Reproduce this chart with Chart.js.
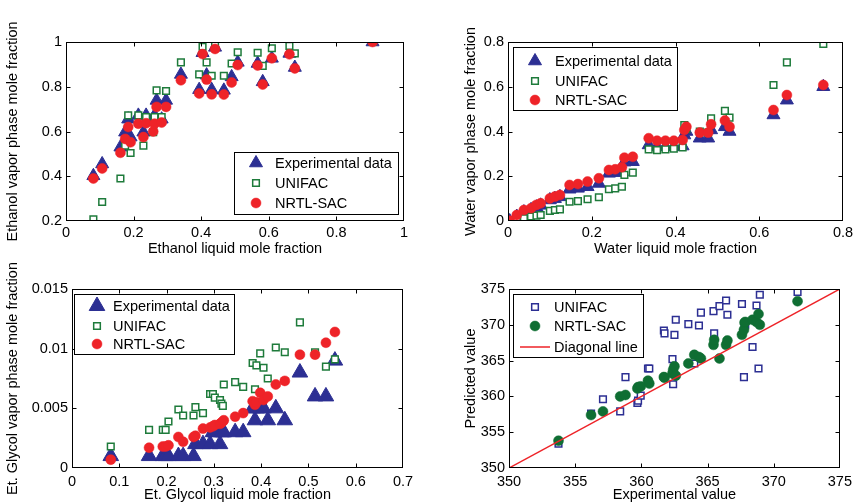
<!DOCTYPE html>
<html>
<head>
<meta charset="utf-8">
<script src="https://cdn.jsdelivr.net/npm/chart.js@4.4.1/dist/chart.umd.min.js"></script>
<style>
  html, body { margin: 0; padding: 0; background: #fff; }
  #wrap { position: relative; width: 857px; height: 504px; overflow: hidden; }
  canvas { position: absolute; }
</style>
</head>
<body>
<div id="wrap">
  <canvas id="ethanol" width="428" height="262" style="left:0;top:0;width:428px;height:262px"></canvas>
  <canvas id="water" width="429" height="262" style="left:428px;top:0;width:429px;height:262px"></canvas>
  <canvas id="glycol" width="428" height="242" style="left:0;top:262px;width:428px;height:242px"></canvas>
  <canvas id="tb" width="429" height="242" style="left:428px;top:262px;width:429px;height:242px"></canvas>
</div>
<script>
// ethanol: liquid mole fraction, then vapor fraction per model
const ethX    = [0.081, 0.107, 0.161, 0.175, 0.184, 0.191, 0.214, 0.229, 0.237, 0.258, 0.262, 0.283, 0.268, 0.296, 0.34, 0.394, 0.404, 0.416, 0.431, 0.441, 0.467, 0.49, 0.508, 0.567, 0.582, 0.609, 0.661, 0.677, 0.907];
const ethExp  = [0.402, 0.455, 0.53, 0.597, 0.655, 0.575, 0.672, 0.597, 0.672, 0.66, 0.672, 0.655, 0.739, 0.739, 0.855, 0.787, 0.952, 0.852, 0.787, 0.976, 0.784, 0.844, 0.909, 0.904, 0.822, 0.927, 0.949, 0.886, 1.0];
const ethUni  = [0.208, 0.285, 0.39, 0.537, 0.672, 0.504, 0.672, 0.537, 0.664, 0.597, 0.664, 0.664, 0.784, 0.781, 0.909, 0.855, 0.979, 0.909, 0.849, 0.99, 0.849, 0.904, 0.954, 0.952, 0.893, 0.972, 0.983, 0.949, 1.0];
const ethNrtl = [0.39, 0.435, 0.505, 0.567, 0.62, 0.552, 0.635, 0.575, 0.637, 0.6, 0.635, 0.64, 0.71, 0.71, 0.829, 0.77, 0.946, 0.832, 0.766, 0.969, 0.765, 0.819, 0.897, 0.895, 0.81, 0.927, 0.945, 0.882, 1.0];

// water
const watX    = [0.004, 0.021, 0.038, 0.055, 0.068, 0.078, 0.1, 0.112, 0.124, 0.147, 0.167, 0.19, 0.217, 0.241, 0.256, 0.272, 0.278, 0.298, 0.336, 0.356, 0.376, 0.396, 0.417, 0.421, 0.426, 0.458, 0.478, 0.485, 0.518, 0.529, 0.634, 0.666, 0.753];
const watExp  = [0.0, 0.02, 0.04, 0.05, 0.062, 0.07, 0.094, 0.1, 0.108, 0.142, 0.146, 0.153, 0.168, 0.213, 0.216, 0.22, 0.263, 0.265, 0.34, 0.332, 0.332, 0.332, 0.335, 0.384, 0.4, 0.37, 0.37, 0.407, 0.421, 0.4, 0.474, 0.54, 0.6];
const watUni  = [0.004, 0.012, 0.012, 0.02, 0.024, 0.027, 0.045, 0.049, 0.052, 0.086, 0.089, 0.097, 0.106, 0.142, 0.146, 0.153, 0.206, 0.216, 0.32, 0.317, 0.32, 0.323, 0.329, 0.429, 0.41, 0.4, 0.395, 0.459, 0.492, 0.462, 0.608, 0.709, 0.791];
const watNrtl = [0.001, 0.027, 0.049, 0.057, 0.072, 0.079, 0.101, 0.109, 0.116, 0.161, 0.165, 0.176, 0.191, 0.228, 0.231, 0.24, 0.283, 0.287, 0.37, 0.359, 0.359, 0.359, 0.362, 0.407, 0.421, 0.395, 0.395, 0.432, 0.449, 0.421, 0.496, 0.563, 0.608];

// ethylene glycol
const glyX    = [0.082, 0.163, 0.192, 0.198, 0.204, 0.225, 0.235, 0.257, 0.261, 0.277, 0.292, 0.298, 0.302, 0.313, 0.316, 0.319, 0.321, 0.345, 0.362, 0.382, 0.387, 0.39, 0.398, 0.405, 0.414, 0.431, 0.45, 0.482, 0.514, 0.537, 0.556];
const glyExp  = [0.001, 0.001, 0.001, 0.001, 0.001, 0.001, 0.001, 0.001, 0.002, 0.002, 0.002, 0.003, 0.003, 0.002, 0.003, 0.003, 0.003, 0.003, 0.003, 0.005, 0.004, 0.005, 0.005, 0.005, 0.004, 0.005, 0.004, 0.008, 0.006, 0.006, 0.009];
const glyUni  = [0.0018, 0.0032, 0.0032, 0.0032, 0.0039, 0.0049, 0.0044, 0.0044, 0.0051, 0.0046, 0.0062, 0.0062, 0.0059, 0.0057, 0.0054, 0.0052, 0.007, 0.0072, 0.0068, 0.0088, 0.0066, 0.0086, 0.0096, 0.0084, 0.0075, 0.0101, 0.0097, 0.0122, 0.0097, 0.0085, 0.0091];
const glyNrtl = [0.0007, 0.0017, 0.0018, 0.0018, 0.0019, 0.0026, 0.0022, 0.0026, 0.0027, 0.0033, 0.0034, 0.0035, 0.0036, 0.0037, 0.0038, 0.0039, 0.004, 0.0043, 0.0046, 0.0056, 0.0053, 0.0055, 0.0063, 0.0057, 0.006, 0.007, 0.0073, 0.0095, 0.0095, 0.0105, 0.0114];

// boiling temperature: experimental vs predicted
const tbExp  = [353.74, 356.2, 357.1, 358.4, 358.8, 359.7, 359.75, 359.95, 360.5, 360.6, 361.7, 361.75, 362.35, 362.4, 362.5, 362.6, 363.55, 364.0, 364.35, 364.5, 365.45, 365.5, 365.9, 366.4, 366.5, 367.6, 367.75, 367.8, 367.85, 368.4, 368.7, 368.85, 368.95, 371.8];
const tbUni  = [353.4, 357.6, 359.6, 357.9, 362.7, 359.1, 359.4, 360.1, 363.9, 363.9, 369.2, 368.8, 365.2, 361.7, 368.6, 370.7, 370.1, 364.6, 369.9, 371.7, 371.9, 368.8, 372.6, 373.4, 371.4, 372.9, 362.7, 370.0, 370.0, 366.9, 372.7, 363.9, 374.2, 374.6];
const tbNrtl = [353.8, 357.4, 357.9, 360.0, 360.2, 361.1, 361.3, 361.4, 362.2, 361.8, 362.7, 362.6, 363.2, 363.7, 364.2, 362.9, 364.6, 365.8, 365.5, 365.3, 367.2, 367.9, 365.3, 367.2, 367.8, 368.6, 369.3, 370.3, 370.4, 370.7, 370.4, 371.5, 370.0, 373.3];
const diagX = [350, 375];

const ethTicksX = [0, 0.2, 0.4, 0.6, 0.8, 1];
const ethTicksY = [0.2, 0.4, 0.6, 0.8, 1];
const watTicksX = [0, 0.2, 0.4, 0.6, 0.8];
const watTicksY = [0, 0.2, 0.4, 0.6, 0.8];
const glyTicksX = [0, 0.1, 0.2, 0.3, 0.4, 0.5, 0.6, 0.7];
const glyTicksY = [0, 0.005, 0.01, 0.015];
const tbTicks   = [350, 355, 360, 365, 370, 375];

const NAVY = '#2C2F93';
const GREEN = '#1E7B3B';
const RED = '#EE2328';
const DKGREEN = '#0F6E33';
const FONT = '"Liberation Sans", Arial, Helvetica, sans-serif';

Chart.defaults.font.family = FONT;
Chart.defaults.font.size = 14.5;
Chart.defaults.color = '#000';

const fmt = v => String(+(+v).toFixed(6));

function pts(xs, ys) {
  return xs.map((x, i) => ({ x: x, y: ys[i] }));
}

// marker looks, shared by the datasets and the boxed legends
const tri = (c, r) => ({ pointStyle: 'triangle', radius: r, bg: c, border: c, bw: 1 });
const sq = (c) => ({ pointStyle: 'rect', radius: 4.7, bg: '#fff', border: c, bw: 1.5 });
const dot = (c) => ({ pointStyle: 'circle', radius: 5, bg: c, border: c, bw: 0.5 });

function markerSet(label, data, m, order) {
  return {
    label: label, data: data, order: order, showLine: false,
    pointStyle: m.pointStyle, pointRadius: m.radius, pointHoverRadius: m.radius,
    pointBackgroundColor: m.bg, pointBorderColor: m.border, pointBorderWidth: m.bw,
    backgroundColor: m.bg, borderColor: m.border
  };
}

function drawMarker(ctx, m, x, y) {
  ctx.save();
  ctx.fillStyle = m.bg;
  ctx.strokeStyle = m.border;
  ctx.lineWidth = m.bw;
  const r = m.radius;
  ctx.beginPath();
  if (m.pointStyle === 'circle') {
    ctx.arc(x, y, r, 0, Math.PI * 2);
  } else if (m.pointStyle === 'rect') {
    const s = r * Math.SQRT1_2;
    ctx.rect(x - s, y - s, 2 * s, 2 * s);
  } else if (m.pointStyle === 'triangle') {
    let a = 0;
    ctx.moveTo(x + Math.sin(a) * r, y - Math.cos(a) * r);
    a += Math.PI * 2 / 3;
    ctx.lineTo(x + Math.sin(a) * r, y - Math.cos(a) * r);
    a += Math.PI * 2 / 3;
    ctx.lineTo(x + Math.sin(a) * r, y - Math.cos(a) * r);
    ctx.closePath();
  } else if (m.pointStyle === 'line') {
    ctx.moveTo(x - m.half, y);
    ctx.lineTo(x + m.half, y);
    ctx.stroke();
    ctx.restore();
    return;
  }
  ctx.fill();
  ctx.stroke();
  ctx.restore();
}

// box round the plot with inward ticks on all four sides (matlab look)
const framePlugin = {
  id: 'frame',
  afterDatasetsDraw(chart) {
    const { ctx, chartArea: a, scales } = chart;
    const L = Math.round(a.left) + 0.5, R = Math.round(a.right) - 0.5;
    const T = Math.round(a.top) + 0.5, B = Math.round(a.bottom) - 0.5;
    ctx.save();
    ctx.strokeStyle = '#000';
    ctx.lineWidth = 1;
    ctx.strokeRect(L, T, R - L, B - T);
    ctx.beginPath();
    scales.x.ticks.forEach(t => {
      const px = Math.round(scales.x.getPixelForValue(t.value)) + 0.5;
      if (px <= L + 1 || px >= R - 1) return;
      ctx.moveTo(px, B); ctx.lineTo(px, B - 4);
      ctx.moveTo(px, T); ctx.lineTo(px, T + 4);
    });
    scales.y.ticks.forEach(t => {
      const py = Math.round(scales.y.getPixelForValue(t.value)) + 0.5;
      if (py <= T + 1 || py >= B - 1) return;
      ctx.moveTo(L, py); ctx.lineTo(L + 4, py);
      ctx.moveTo(R, py); ctx.lineTo(R - 4, py);
    });
    ctx.stroke();
    ctx.restore();
  }
};

function boxLegend(cfg) {
  return {
    id: 'boxLegend',
    afterDraw(chart) {
      const ctx = chart.ctx;
      ctx.save();
      ctx.fillStyle = '#fff';
      ctx.fillRect(cfg.x, cfg.y, cfg.w, cfg.h);
      ctx.strokeStyle = '#000';
      ctx.lineWidth = 1;
      ctx.strokeRect(cfg.x + 0.5, cfg.y + 0.5, cfg.w, cfg.h);
      ctx.restore();
      cfg.rows.forEach((row, i) => {
        const y = cfg.rowY[i];
        drawMarker(ctx, row.m, cfg.markerX, y);
        ctx.save();
        ctx.fillStyle = '#000';
        ctx.font = '14.5px ' + FONT;
        ctx.textBaseline = 'middle';
        ctx.fillText(row.text, cfg.textX, y + 1);
        ctx.restore();
      });
    }
  };
}

function axes(o) {
  return {
    x: {
      type: 'linear', min: o.xt[0], max: o.xt[o.xt.length - 1],
      grid: { display: false, drawTicks: false }, border: { display: false },
      afterBuildTicks: s => { s.ticks = o.xt.map(v => ({ value: v })); },
      afterFit: s => { s.height = o.xh; },
      ticks: { padding: o.xpad, maxRotation: 0, autoSkip: false, callback: fmt },
      title: { display: true, text: o.xtitle, padding: { top: 0, bottom: o.xtb } }
    },
    y: {
      type: 'linear', min: o.yt[0], max: o.yt[o.yt.length - 1],
      grid: { display: false, drawTicks: false }, border: { display: false },
      afterBuildTicks: s => { s.ticks = o.yt.map(v => ({ value: v })); },
      afterFit: s => { s.width = o.yw; },
      ticks: { padding: 4, autoSkip: false, callback: fmt },
      title: { display: true, text: o.ytitle, padding: { top: 4, bottom: 0 } }
    }
  };
}

function baseOptions(o) {
  return {
    responsive: false, animation: false, devicePixelRatio: 1,
    layout: { padding: o.pad },
    plugins: { legend: { display: false }, tooltip: { enabled: false } },
    scales: axes(o)
  };
}

// panel 1: ethanol
const m1 = { exp: tri(NAVY, 7.5), uni: sq(GREEN), nrtl: dot(RED) };
new Chart(document.getElementById('ethanol'), {
  type: 'scatter',
  data: { datasets: [
    markerSet('Experimental data', pts(ethX, ethExp), m1.exp, 2),
    markerSet('UNIFAC', pts(ethX, ethUni), m1.uni, 1),
    markerSet('NRTL-SAC', pts(ethX, ethNrtl), m1.nrtl, 0)
  ] },
  options: baseOptions({
    pad: { left: 0, top: 42, right: 24, bottom: 0 },
    xt: ethTicksX, yt: ethTicksY, xh: 41, yw: 66, xpad: 3, xtb: 4.3,
    xtitle: 'Ethanol liquid mole fraction', ytitle: 'Ethanol vapor phase mole fraction'
  }),
  plugins: [framePlugin, boxLegend({
    x: 234, y: 152, w: 164, h: 62, markerX: 256, textX: 275, rowY: [163, 183, 203],
    rows: [{ m: m1.exp, text: 'Experimental data' }, { m: m1.uni, text: 'UNIFAC' }, { m: m1.nrtl, text: 'NRTL-SAC' }]
  })]
});

// panel 2: water
const m2 = { exp: tri(NAVY, 7.5), uni: sq(GREEN), nrtl: dot(RED) };
new Chart(document.getElementById('water'), {
  type: 'scatter',
  data: { datasets: [
    markerSet('Experimental data', pts(watX, watExp), m2.exp, 2),
    markerSet('UNIFAC', pts(watX, watUni), m2.uni, 1),
    markerSet('NRTL-SAC', pts(watX, watNrtl), m2.nrtl, 0)
  ] },
  options: baseOptions({
    pad: { left: 30, top: 42, right: 14, bottom: 0 },
    xt: watTicksX, yt: watTicksY, xh: 41, yw: 50, xpad: 3, xtb: 4.3,
    xtitle: 'Water liquid mole fraction', ytitle: 'Water vapor phase mole fraction'
  }),
  plugins: [framePlugin, boxLegend({
    x: 85, y: 47, w: 164, h: 63, markerX: 107, textX: 127, rowY: [61, 81, 100],
    rows: [{ m: m2.exp, text: 'Experimental data' }, { m: m2.uni, text: 'UNIFAC' }, { m: m2.nrtl, text: 'NRTL-SAC' }]
  })]
});

// panel 3: ethylene glycol
const m3 = { exp: tri(NAVY, 9), uni: sq(GREEN), nrtl: dot(RED) };
new Chart(document.getElementById('glycol'), {
  type: 'scatter',
  data: { datasets: [
    markerSet('Experimental data', pts(glyX, glyExp), m3.exp, 2),
    markerSet('UNIFAC', pts(glyX, glyUni), m3.uni, 1),
    markerSet('NRTL-SAC', pts(glyX, glyNrtl), m3.nrtl, 0)
  ] },
  options: baseOptions({
    pad: { left: 0, top: 27, right: 25, bottom: 0 },
    xt: glyTicksX, yt: glyTicksY, xh: 36, yw: 72, xpad: 5, xtb: 0,
    xtitle: 'Et. Glycol liquid mole fraction', ytitle: 'Et. Glycol vapor phase mole fraction'
  }),
  plugins: [framePlugin, boxLegend({
    x: 74, y: 32, w: 160, h: 60, markerX: 97, textX: 113, rowY: [44, 64, 82],
    rows: [{ m: m3.exp, text: 'Experimental data' }, { m: m3.uni, text: 'UNIFAC' }, { m: m3.nrtl, text: 'NRTL-SAC' }]
  })]
});

// panel 4: predicted vs experimental
const m4 = { uni: sq(NAVY), nrtl: dot(DKGREEN), line: { pointStyle: 'line', half: 15, border: RED, bg: RED, bw: 1.5 } };
new Chart(document.getElementById('tb'), {
  type: 'scatter',
  data: { datasets: [
    markerSet('UNIFAC', pts(tbExp, tbUni), m4.uni, 2),
    markerSet('NRTL-SAC', pts(tbExp, tbNrtl), m4.nrtl, 1),
    { label: 'Diagonal line', type: 'line', data: pts(diagX, diagX), order: 0, showLine: true,
      borderColor: RED, borderWidth: 1.5, pointRadius: 0, fill: false }
  ] },
  options: baseOptions({
    pad: { left: 30, top: 27, right: 14, bottom: 0 },
    xt: tbTicks, yt: tbTicks, xh: 36, yw: 51, xpad: 5, xtb: 0,
    xtitle: 'Experimental value', ytitle: 'Predicted value'
  }),
  plugins: [framePlugin, boxLegend({
    x: 85, y: 32, w: 130, h: 63, markerX: 107, textX: 126, rowY: [45, 64, 85],
    rows: [{ m: m4.uni, text: 'UNIFAC' }, { m: m4.nrtl, text: 'NRTL-SAC' }, { m: m4.line, text: 'Diagonal line' }]
  })]
});
</script>
</body>
</html>
